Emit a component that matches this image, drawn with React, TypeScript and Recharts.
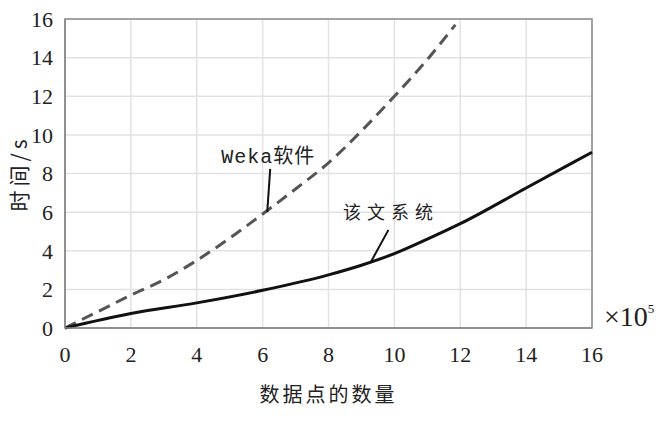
import React from 'react'
import {
  LineChart,
  Line,
  XAxis,
  YAxis,
  CartesianGrid,
  ReferenceArea,
  ReferenceLine,
  ReferenceDot,
} from 'recharts'

document.body.style.margin = '0'

const xTicks = [0, 2, 4, 6, 8, 10, 12, 14, 16]
const yTicks = [0, 2, 4, 6, 8, 10, 12, 14, 16]

// Weka软件 (dashed)
const wekaX = [0, 1, 2, 3, 4, 5, 6, 7, 8, 9, 10, 11, 11.85]
const wekaY = [0, 0.85, 1.7, 2.5, 3.5, 4.65, 5.9, 7.2, 8.55, 10.2, 12.0, 13.9, 15.7]

// 该文系统 (solid)
const oursX = [0, 2, 4, 6, 8, 9, 10, 11, 12, 14, 16]
const oursY = [0, 0.75, 1.3, 1.95, 2.75, 3.25, 3.85, 4.6, 5.4, 7.25, 9.1]

const wekaData = wekaX.map((x, i) => ({ x, y: wekaY[i] }))
const oursData = oursX.map((x, i) => ({ x, y: oursY[i] }))

const serif = '"Liberation Serif", "DejaVu Serif", serif'
const cjk = '"Noto Sans CJK SC", sans-serif'

export default function App() {
  return (
    <div
      style={{
        position: 'relative',
        width: 660,
        height: 439,
        background: '#fff',
        fontFamily: serif,
      }}
    >
      <LineChart
        width={660}
        height={439}
        margin={{ top: 19, right: 68, left: 0, bottom: 0 }}
        style={{ fontFamily: serif }}
      >
        <CartesianGrid stroke="#e2e2e2" strokeWidth={1.5} />
        <XAxis
          type="number"
          dataKey="x"
          domain={[0, 16]}
          ticks={xTicks}
          height={111}
          tickSize={0}
          tickMargin={18}
          stroke="#8a8a8a"
          strokeWidth={1.5}
          tick={{ fontSize: 22, fill: '#222', fontFamily: serif }}
          label={{
            value: '数据点的数量',
            position: 'insideBottom',
            offset: 37,
            style: { fontSize: 20, fill: '#222', fontFamily: cjk, letterSpacing: 3 },
          }}
        />
        <YAxis
          type="number"
          domain={[0, 16]}
          ticks={yTicks}
          width={65}
          tickSize={0}
          tickMargin={12}
          stroke="#8a8a8a"
          strokeWidth={1.5}
          tick={{ fontSize: 22, fill: '#222', fontFamily: serif }}
          label={{
            value: '时间/s',
            angle: -90,
            position: 'insideLeft',
            offset: 20,
            style: { fontSize: 21, fill: '#222', fontFamily: cjk, textAnchor: 'middle', letterSpacing: 4 },
          }}
        />
        <ReferenceArea x1={0} x2={16} y1={0} y2={16} fill="none" stroke="#8a8a8a" strokeWidth={1.5} />
        <Line
          data={wekaData}
          dataKey="y"
          type="monotone"
          stroke="#555"
          strokeWidth={3}
          strokeDasharray="12 7"
          dot={false}
          isAnimationActive={false}
        />
        <Line
          data={oursData}
          dataKey="y"
          type="monotone"
          stroke="#111"
          strokeWidth={3}
          dot={false}
          isAnimationActive={false}
        />
        <ReferenceLine
          segment={[{ x: 6.14, y: 6.0 }, { x: 6.23, y: 8.24 }]}
          stroke="#111"
          strokeWidth={2}
        />
        <ReferenceLine
          segment={[{ x: 9.27, y: 3.37 }, { x: 9.82, y: 5.08 }]}
          stroke="#111"
          strokeWidth={2}
        />
        <ReferenceDot
          x={6.17}
          y={8.9}
          r={0}
          label={{
            value: 'Weka软件',
            position: 'center',
            style: { fontSize: 20, fill: '#222', fontFamily: `"Liberation Mono", ${cjk}`, letterSpacing: 1 },
          }}
        />
        <ReferenceDot
          x={9.9}
          y={6.0}
          r={0}
          label={{
            value: '该文系统',
            position: 'center',
            style: { fontSize: 18, fill: '#222', fontFamily: cjk, letterSpacing: 6 },
          }}
        />
      </LineChart>
      <div
        style={{
          position: 'absolute',
          left: 604,
          top: 303,
          fontFamily: serif,
          fontSize: 28,
          color: '#222',
          lineHeight: 1,
          whiteSpace: 'nowrap',
        }}
      >
        ×10<sup style={{ fontSize: 13, verticalAlign: 'top', position: 'relative', top: -1 }}>5</sup>
      </div>
    </div>
  )
}
